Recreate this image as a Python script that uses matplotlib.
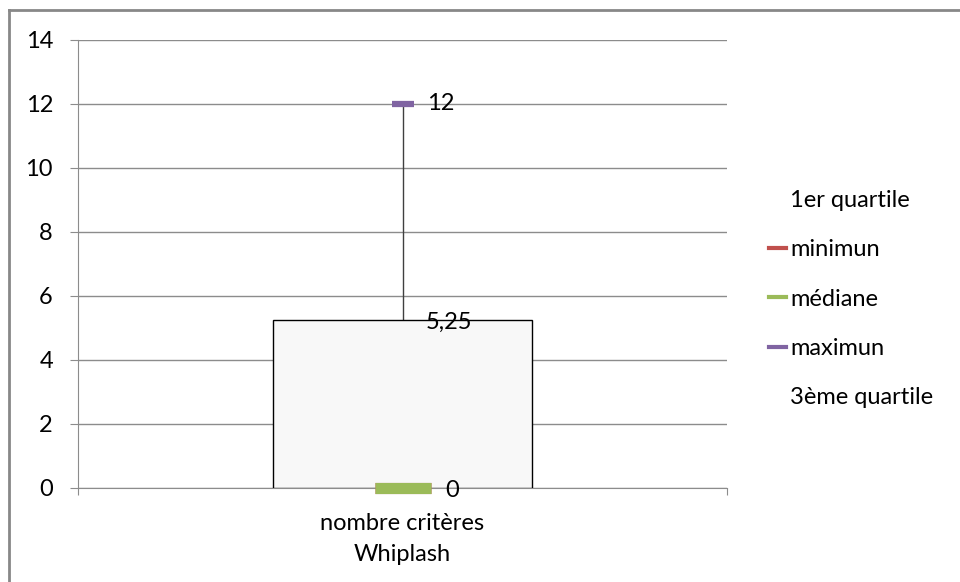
import matplotlib
matplotlib.use('Agg')
from matplotlib import pyplot as plt
from matplotlib.lines import Line2D

# box plot values (Excel stock chart style)
category = 'nombre critères\nWhiplash'
q1 = [0]
minimum = [0]
median = [0]
maximum = [12]
q3 = [5.25]
series_names = ['1er quartile', 'minimun', 'médiane', 'maximun', '3ème quartile']
yticks = [0, 2, 4, 6, 8, 10, 12, 14]

red = '#C0504D'
green = '#9BBB59'
purple = '#8064A2'
grid_grey = '#8C8C8C'
fs = 17

plt.rcParams['font.family'] = ['Lato', 'DejaVu Sans']
plt.rcParams['font.size'] = fs

fig = plt.figure(figsize=(9.6, 5.82), dpi=100)
ax = fig.add_axes([78 / 960, 1 - 488 / 582, (727 - 78) / 960, (488 - 40) / 582])

x = [0.5]

# high-low line, then the box from Q1 to Q3
ax.vlines(x, minimum, maximum, color='#404040', linewidth=1, zorder=2)
ax.bar(x, [h - l for h, l in zip(q3, q1)], bottom=q1, width=0.4,
       color='#F8F8F8', edgecolor='black', linewidth=1, zorder=3)

ax.plot(x, minimum, marker='_', color=red, markersize=40, mew=8,
        linestyle='none', zorder=4, clip_on=False)
ax.plot(x, median, marker='_', color=green, markersize=40, mew=8,
        linestyle='none', zorder=5, clip_on=False)
ax.plot(x, maximum, marker='_', color=purple, markersize=16, mew=4.5,
        linestyle='none', zorder=5, clip_on=False)

# data labels
ax.annotate(f'{maximum[0]:g}', (x[0], maximum[0]), xytext=(18, 0),
            textcoords='offset points', va='center', ha='left')
ax.annotate(f'{q3[0]:g}'.replace('.', ','), (x[0], q3[0]), xytext=(17, -2),
            textcoords='offset points', va='center', ha='left')
ax.annotate(f'{median[0]:g}', (x[0], median[0]), xytext=(31, -2),
            textcoords='offset points', va='center', ha='left')

ax.set_xlim(0, 1)
ax.set_ylim(0, 14)
ax.set_yticks(yticks)
ax.yaxis.grid(True, color=grid_grey, linewidth=1)
ax.set_axisbelow(True)
ax.tick_params(axis='y', length=6, color=grid_grey, pad=12)

ax.set_xticks([0, 1])
ax.set_xticklabels(['', ''])
ax.tick_params(axis='x', which='major', length=5, color=grid_grey)
ax.set_xticks(x, minor=True)
ax.set_xticklabels([category], minor=True, linespacing=1.6)
ax.tick_params(axis='x', which='minor', length=0, pad=18)

for side in ['top', 'right']:
    ax.spines[side].set_visible(False)
ax.spines['left'].set_color(grid_grey)
ax.spines['bottom'].set_color(grid_grey)
ax.spines['bottom'].set_zorder(1)

handles = [
    Line2D([], [], color='none'),
    Line2D([], [], color=red, linewidth=3),
    Line2D([], [], color=green, linewidth=3),
    Line2D([], [], color=purple, linewidth=3),
    Line2D([], [], color='none'),
]
fig.legend(handles, series_names, loc='center left',
           bbox_to_anchor=(769 / 960, 1 - 299 / 582), frameon=False,
           borderpad=0, borderaxespad=0,
           handlelength=0.7, handletextpad=0.2, labelspacing=1.2)

# outer frame on left and top edges
fig.add_artist(Line2D([9 / 960, 9 / 960], [0, 1 - 10 / 582], color='#888888',
                      linewidth=2, transform=fig.transFigure))
fig.add_artist(Line2D([9 / 960, 1], [1 - 10 / 582, 1 - 10 / 582], color='#888888',
                      linewidth=2, transform=fig.transFigure))

fig.savefig('out.png', dpi=100)
